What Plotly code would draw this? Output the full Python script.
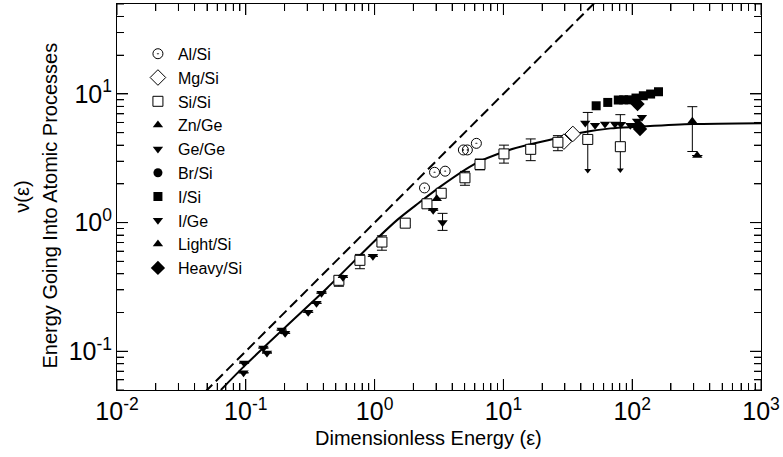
import plotly.graph_objects as go
import numpy as np

# ---------------- data ----------------
al_si_eps = [2.44, 2.92, 3.53, 4.89, 5.25, 6.17]
al_si_nu = [1.86, 2.46, 2.51, 3.67, 3.67, 4.13]

mg_si_eps = [29.5, 34.6]
mg_si_nu = [4.26, 4.89]

si_si_eps = [0.528, 0.769, 1.14, 1.73, 2.55, 3.29, 5.03, 6.58, 10.1, 16.3, 26.5, 45.2, 80.9]
si_si_nu = [0.356, 0.509, 0.706, 0.99, 1.40, 1.69, 2.23, 2.83, 3.42, 3.71, 4.21, 4.43, 3.89]
si_si_err_up = [0.027, 0.057, 0.084, 0.04, 0.06, 0.08, 0.27, 0.29, 0.58, 0.76, 0.53, 2.75, 3.01]
si_si_err_dn = [0.036, 0.071, 0.096, 0.04, 0.06, 0.08, 0.28, 0.26, 0.52, 0.68, 0.59, 0.0, 0.0]
si_si_limit_eps = [45.2, 80.9]
si_si_limit_top = [4.43, 3.89]
si_si_limit_low = [2.54, 2.56]

zn_ge_eps = [3.04]
zn_ge_nu = [1.53]

ge_ge_eps = [0.097, 0.096, 0.137, 0.146, 0.19, 0.202, 0.305, 0.354, 0.387, 0.568, 0.97, 2.85, 3.37]
ge_ge_nu = [0.081, 0.068, 0.106, 0.097, 0.146, 0.138, 0.201, 0.236, 0.283, 0.376, 0.547, 1.25, 1.0]
ge_ge_err_up = [0, 0, 0, 0, 0, 0, 0, 0, 0, 0, 0, 0.0, 0.18]
ge_ge_err_dn = [0, 0, 0, 0, 0, 0, 0, 0, 0, 0, 0, 0.0, 0.13]

br_si_eps = [None]
br_si_nu = [None]

i_si_eps = [52.5, 64.6, 78.0, 85.8, 94.8, 107, 122, 139, 160]
i_si_nu = [8.09, 8.59, 8.97, 9.0, 9.0, 9.29, 9.68, 9.98, 10.4]

i_ge_eps = [43.2, 51.5, 61.5, 73.5, 81.8, 96.7, 109, 119]
i_ge_nu = [5.95, 5.70, 5.85, 5.85, 5.80, 5.70, 6.15, 6.58]

light_si_eps = [293, 320]
light_si_nu = [6.13, 3.32]
light_si_err_up = [1.83, 0]
light_si_err_dn = [2.56, 0]

heavy_si_eps = [110, 112, 115]
heavy_si_nu = [8.34, 5.60, 5.34]

# solid theory curve
curve_eps = [0.064, 0.1, 0.2, 0.43, 1.0, 1.5, 2.2, 3.3, 6.0, 10.5, 16, 26.5, 38, 68, 110, 293, 1000]
curve_nu = [0.05, 0.0787, 0.152, 0.312, 0.72, 1.05, 1.42, 1.93, 2.86, 3.6, 4.05, 4.55, 4.95, 5.40, 5.55, 5.83, 5.93]

# dashed line nu = eps
dash_eps = [0.04, 60]
dash_nu = [0.04, 60]

# axis ranges (data units) and tick label text
x_range = [0.01, 1000]
y_range = [0.05, 50]
tick_label_alias = {
    "1": "10<sup>0</sup>",
    "10": "10<sup>1</sup>",
    "10<sup>\u22121</sup>": "10<sup>-1</sup>",
    "10<sup>\u22122</sup>": "10<sup>-2</sup>",
    "100": "10<sup>2</sup>",
    "1000": "10<sup>3</sup>",
}

# ---------------- figure ----------------
BLACK = "black"
FONT = "Arial"
fig = go.Figure()

fig.add_trace(go.Scatter(x=dash_eps, y=dash_nu, mode="lines",
                         line=dict(color=BLACK, width=2, dash="10px,5px"),
                         showlegend=False, hoverinfo="skip"))
fig.add_trace(go.Scatter(x=curve_eps, y=curve_nu, mode="lines",
                         line=dict(color=BLACK, width=2, shape="spline", smoothing=0.8),
                         showlegend=False, hoverinfo="skip"))

# downward-limit arrows for Si/Si
for e, top, low in zip(si_si_limit_eps, si_si_limit_top, si_si_limit_low):
    fig.add_trace(go.Scatter(x=[e, e], y=[top, low], mode="lines",
                             line=dict(color=BLACK, width=1), showlegend=False, hoverinfo="skip"))
fig.add_trace(go.Scatter(x=si_si_limit_eps, y=si_si_limit_low, mode="markers",
                         marker=dict(symbol="triangle-down", size=6, color=BLACK, line=dict(width=0)),
                         showlegend=False, hoverinfo="skip"))

err_style = dict(color=BLACK, thickness=1, width=5)

fig.add_trace(go.Scatter(name="Al/Si", x=al_si_eps, y=al_si_nu, mode="markers",
                         marker=dict(symbol="circle-open-dot", size=10, color=BLACK, line=dict(width=1))))
fig.add_trace(go.Scatter(name="Mg/Si", x=mg_si_eps, y=mg_si_nu, mode="markers",
                         marker=dict(symbol="diamond", size=12, color="white", line=dict(width=1, color=BLACK))))
fig.add_trace(go.Scatter(name="Si/Si", x=si_si_eps, y=si_si_nu, mode="markers",
                         error_y=dict(type="data", symmetric=False, array=si_si_err_up,
                                      arrayminus=si_si_err_dn, **err_style),
                         marker=dict(symbol="square", size=10, color="white", line=dict(width=1, color=BLACK))))
fig.add_trace(go.Scatter(name="Zn/Ge", x=zn_ge_eps, y=zn_ge_nu, mode="markers",
                         marker=dict(symbol="triangle-up", size=9, color=BLACK)))
fig.add_trace(go.Scatter(name="Ge/Ge", x=ge_ge_eps, y=ge_ge_nu, mode="markers",
                         error_y=dict(type="data", symmetric=False, array=ge_ge_err_up,
                                      arrayminus=ge_ge_err_dn, **err_style),
                         marker=dict(symbol="triangle-down", size=9, color=BLACK)))
fig.add_trace(go.Scatter(name="Br/Si", x=br_si_eps, y=br_si_nu, mode="markers",
                         marker=dict(symbol="circle", size=9, color=BLACK)))
fig.add_trace(go.Scatter(name="I/Si", x=i_si_eps, y=i_si_nu, mode="markers",
                         marker=dict(symbol="square", size=9, color=BLACK)))
fig.add_trace(go.Scatter(name="I/Ge", x=i_ge_eps, y=i_ge_nu, mode="markers",
                         marker=dict(symbol="triangle-down", size=9, color=BLACK)))
fig.add_trace(go.Scatter(name="Light/Si", x=light_si_eps, y=light_si_nu, mode="markers",
                         error_y=dict(type="data", symmetric=False, array=light_si_err_up,
                                      arrayminus=light_si_err_dn, **err_style),
                         marker=dict(symbol="triangle-up", size=9, color=BLACK)))
fig.add_trace(go.Scatter(name="Heavy/Si", x=heavy_si_eps, y=heavy_si_nu, mode="markers",
                         marker=dict(symbol="diamond", size=11, color=BLACK)))

for upd, rng in ((fig.update_xaxes, x_range), (fig.update_yaxes, y_range)):
    upd(type="log", range=[np.log10(v) for v in rng], dtick=1, tick0=0,
        exponentformat="power", showexponent="all", labelalias=tick_label_alias,
        ticks="inside", ticklen=11, tickwidth=1, tickcolor=BLACK,
        showline=True, linecolor=BLACK, linewidth=1, mirror="allticks",
        gridcolor="white",
        minor=dict(ticks="inside", ticklen=7, tickwidth=1, tickcolor=BLACK, dtick="D1"),
        tickfont=dict(family=FONT, size=20, color=BLACK))


# tick marks on all four sides, placed at the log-axis tick values (lengths in pixels)
def log_ticks(lo, hi):
    out = []
    for d in range(int(np.floor(np.log10(lo))), int(np.ceil(np.log10(hi))) + 1):
        for m in range(1, 10):
            v = m * 10.0 ** d
            if lo * 0.999 <= v <= hi * 1.001:
                out.append((v, 11 if m == 1 else 7))
    return out


tick_shapes = []
tick_line = dict(color=BLACK, width=1)
for v, ln in log_ticks(*x_range):
    for anchor, sign in ((0, 1), (1, -1)):
        tick_shapes.append(dict(type="line", xref="x", yref="paper", ysizemode="pixel",
                                yanchor=anchor, x0=v, x1=v, y0=0, y1=sign * ln,
                                line=tick_line, layer="above"))
for v, ln in log_ticks(*y_range):
    for anchor, sign in ((0, 1), (1, -1)):
        tick_shapes.append(dict(type="line", yref="y", xref="paper", xsizemode="pixel",
                                xanchor=anchor, y0=v, y1=v, x0=0, x1=sign * ln,
                                line=tick_line, layer="above"))

fig.update_layout(
    width=783, height=457,
    margin=dict(l=117, r=19, t=3, b=67),
    paper_bgcolor="white", plot_bgcolor="white",
    font=dict(family=FONT, size=16, color=BLACK),
    shapes=tick_shapes,
    legend=dict(x=0.0325, y=0.915, xanchor="left", yanchor="top", bgcolor="rgba(0,0,0,0)",
                font=dict(family=FONT, size=16, color=BLACK), itemwidth=30, tracegroupgap=0),
    annotations=[
        dict(text="Dimensionless Energy (ε)", x=0.484, y=-0.124, xref="paper", yref="paper",
             showarrow=False, xanchor="center", yanchor="middle",
             font=dict(family=FONT, size=20, color=BLACK)),
        dict(text="ν(ε)", x=-0.148, y=0.5, xref="paper", yref="paper", textangle=-90,
             showarrow=False, xanchor="center", yanchor="middle",
             font=dict(family=FONT, size=20, color=BLACK)),
        dict(text="Energy Going Into Atomic Processes", x=-0.104, y=0.478, xref="paper", yref="paper",
             textangle=-90, showarrow=False, xanchor="center", yanchor="middle",
             font=dict(family=FONT, size=20, color=BLACK)),
    ],
)

fig.write_html("out.html")
